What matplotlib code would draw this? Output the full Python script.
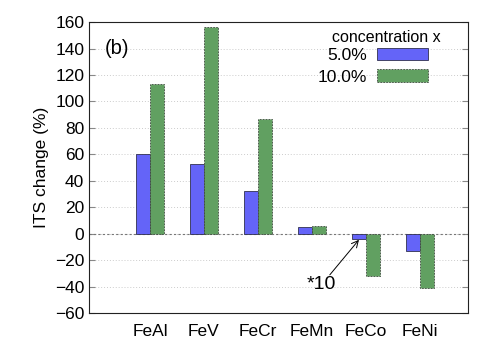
import numpy as np
import matplotlib
matplotlib.use('Agg')
import matplotlib.pyplot as plt

# data
alloys = ['FeAl', 'FeV', 'FeCr', 'FeMn', 'FeCo', 'FeNi']
its_5 = [60, 53, 32, 5, -4, -13]
its_10 = [113, 156, 87, 6, -32, -41]
yticks = list(range(-60, 161, 20))

plt.rcParams['font.family'] = ['Liberation Sans', 'DejaVu Sans']
plt.rcParams['font.size'] = 12.5

fig = plt.figure(figsize=(5, 3.5), dpi=100)
ax = fig.add_axes([0.178, 0.105, 0.758, 0.832])

x = np.arange(len(alloys))
w = 0.26
ax.bar(x - w / 2, its_5, w, color='#6464f8', edgecolor='#303050', linewidth=0.6,
       label='5.0%', zorder=3)
ax.bar(x + w / 2, its_10, w, color='#61a061', edgecolor='#404840', linewidth=0.6,
       linestyle=(0, (2, 1.5)), label='10.0%', zorder=3)

ax.set_xlim(-1.13, 5.89)
ax.set_ylim(-60, 160)
ax.set_yticks(yticks)
ax.set_xticks(x)
ax.set_xticklabels(alloys)
ax.tick_params(axis='x', length=0, pad=8)
ax.tick_params(axis='y', direction='in', right=True, length=4, color='#888888')
ax.grid(axis='y', linestyle=(0, (1, 2)), color='#cccccc', linewidth=0.7, zorder=0)
ax.axhline(0, color='#777777', linestyle=(0, (2, 2)), linewidth=0.8, zorder=2)
for s in ax.spines.values():
    s.set_linewidth(0.8)
    s.set_color('#222222')
ax.set_ylabel('ITS change (%)', labelpad=4)

ax.text(-0.83, 140, '(b)', fontsize=14.5, va='center')
ax.text(3.18, -38.5, '*10', fontsize=14, ha='center', va='center')
ax.annotate('', xy=(3.87, -4.5), xytext=(3.33, -31),
            arrowprops=dict(arrowstyle='->', color='black', lw=0.7,
                            shrinkA=0, shrinkB=0, mutation_scale=12))

ax.text(0.927, 0.948, 'concentration x', transform=ax.transAxes,
        ha='right', va='center', fontsize=11.5)
leg = ax.legend(loc='upper right', bbox_to_anchor=(0.894, 0.91),
                frameon=False, markerfirst=False, handlelength=2.9,
                handleheight=0.7, handletextpad=0.6, borderpad=0,
                borderaxespad=0, labelspacing=0.35, fontsize=12.5)

fig.savefig('out.png', dpi=100)
